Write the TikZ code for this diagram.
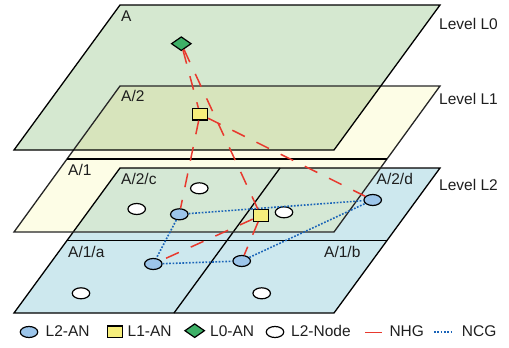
\documentclass[tikz,border=0pt]{standalone}
\usepackage{fontspec}
\setmainfont{Liberation Sans}
\usetikzlibrary{shapes.geometric}

% plane fills
\definecolor{planeA}{HTML}{D5E8D0}      % level L0 alone
\definecolor{planeAB}{HTML}{D7E4BC}     % L0 over L1
\definecolor{planeB}{HTML}{FDFDE6}      % level L1 alone
\definecolor{planeBC}{HTML}{D5E8D5}     % L1 over L2
\definecolor{planeC}{HTML}{CDE8EE}      % level L2 alone
% node and link colours
\definecolor{anblue}{HTML}{9CC5EA}
\definecolor{anyellow}{HTML}{F6EE7C}
\definecolor{angreen}{HTML}{3EB067}
\definecolor{nhgred}{HTML}{E8392E}
\definecolor{ncgblue}{HTML}{1A64B8}
\definecolor{txt}{HTML}{1E1E1E}

\begin{document}
\begin{tikzpicture}[x=1pt,y=-1pt,
  edge/.style={draw=black,line width=1.3pt,line join=miter},
  lbl/.style={anchor=base west,inner sep=0pt,text=txt,font=\fontsize{15.5}{18}\selectfont},
  ltwoan/.style={ellipse,draw=black,line width=1.2pt,fill=anblue,minimum width=17.5pt,minimum height=11pt,inner sep=0pt},
  ltwonode/.style={ellipse,draw=black,line width=1.2pt,fill=white,minimum width=17.5pt,minimum height=11pt,inner sep=0pt},
  loan/.style={rectangle,draw=black,line width=1.2pt,fill=anyellow,minimum width=15pt,minimum height=11.5pt,inner sep=0pt},
  lzan/.style={diamond,draw=black,line width=1.2pt,fill=angreen,minimum width=20pt,minimum height=14pt,inner sep=0pt},
  nhg/.style={draw=nhgred,line width=1.5pt,dash pattern=on 14pt off 13pt},
  ncg/.style={draw=ncgblue,line width=1.6pt,dash pattern=on 1.7pt off 1.6pt}]
\useasboundingbox (0,0) rectangle (509,348);

% ---- plane fills (back to front) ----
\fill[planeC] (14,313) -- (334,313) -- (440,168) -- (120,168) -- cycle;
\fill[planeB] (14,232) -- (334,232) -- (440,86) -- (120,86) -- cycle;
\fill[planeBC] (120,168) -- (380.8,168) -- (334,232) -- (73.2,232) -- cycle;
\fill[planeA] (14,150) -- (334,150) -- (440,5) -- (120,5) -- cycle;
\fill[planeAB] (120,86) -- (380.8,86) -- (334,150) -- (73.9,150) -- cycle;

% ---- plane outlines ----
% level L2 with its four areas
\draw[edge] (14,313) -- (334,313) -- (440,168) -- (120,168) -- cycle;
\draw[edge] (67,240.5) -- (387,240.5);
\draw[edge] (280,168) -- (174,313);
% level L1 with its two areas
\draw[edge,draw=black!85] (14,232) -- (334,232) -- (440,86) -- (120,86) -- cycle;
\draw[edge] (67.4,159) -- (387.4,159);
% level L0
\draw[edge] (14,150) -- (334,150) -- (440,5) -- (120,5) -- cycle;

% ---- area and level labels ----
\node[lbl] (tA)   at (121,21) {A};
\node[lbl] (tA2)  at (121,101.5) {A/2};
\node[lbl] (tA1)  at (68,175) {A/1};
\node[lbl] (tA2c) at (121,184) {A/2/c};
\node[lbl] (tA2d) at (376.5,184.3) {A/2/d};
\node[lbl] (tA1a) at (68,257.7) {A/1/a};
\node[lbl] (tA1b) at (324,257.7) {A/1/b};
\node[lbl] (lv0)  at (439,30) {Level L0};
\node[lbl] (lv1)  at (439,104.3) {Level L1};
\node[lbl] (lv2)  at (439,190) {Level L2};

% ---- nodes ----
\node[lzan]   (z)  at (181.3,43.7) {};
\node[loan]   (y1) at (200,114.2) {};
\node[loan]   (y2) at (260.8,215.5) {};
\node[ltwoan] (bc) at (179.3,214.3) {};
\node[ltwoan] (bd) at (372.7,200) {};
\node[ltwoan] (ba) at (153.3,264) {};
\node[ltwoan] (bb) at (241.7,261) {};
\node[ltwonode] (w1) at (199.3,188.3) {};
\node[ltwonode] (w2) at (136.7,209) {};
\node[ltwonode] (w3) at (284,212.3) {};
\node[ltwonode] (w4) at (81,293.3) {};
\node[ltwonode] (w5) at (261.7,293.3) {};

% ---- NCG links ----
\draw[ncg] (bc) -- (bd);
\draw[ncg] (bc) -- (ba);
\draw[ncg] (ba) -- (bb);
\draw[ncg] (bb) -- (bd);

% ---- NHG links ----
\draw[nhg] (z) -- (y1);
\draw[nhg] (z) -- (y2);
\draw[nhg] (y1) -- (bc);
\draw[nhg] (y1) -- (bd);
\draw[nhg] (y2) -- (ba);
\draw[nhg] (y2) -- (bb);

% ---- legend ----
\node[ltwoan]   (k1) at (29,332) {};
\node[lbl]      (k1t) at (45.5,336.7) {L2-AN};
\node[loan]     (k2) at (115.3,331.7) {};
\node[lbl]      (k2t) at (127.5,336.7) {L1-AN};
\node[lzan]     (k3) at (194.7,330.7) {};
\node[lbl]      (k3t) at (210,336.7) {L0-AN};
\node[ltwonode] (k4) at (275,332) {};
\node[lbl]      (k4t) at (291,336.7) {L2-Node};
\coordinate (k5a) at (365,332.3);
\coordinate (k5b) at (382,332.3);
\draw[nhgred,line width=1.5pt] (k5a) -- (k5b);
\node[lbl]      (k5t) at (389.3,336.7) {NHG};
\coordinate (k6a) at (434,332);
\coordinate (k6b) at (453,332);
\draw[ncg] (k6a) -- (k6b);
\node[lbl]      (k6t) at (461.7,336.7) {NCG};
\end{tikzpicture}
\end{document}
